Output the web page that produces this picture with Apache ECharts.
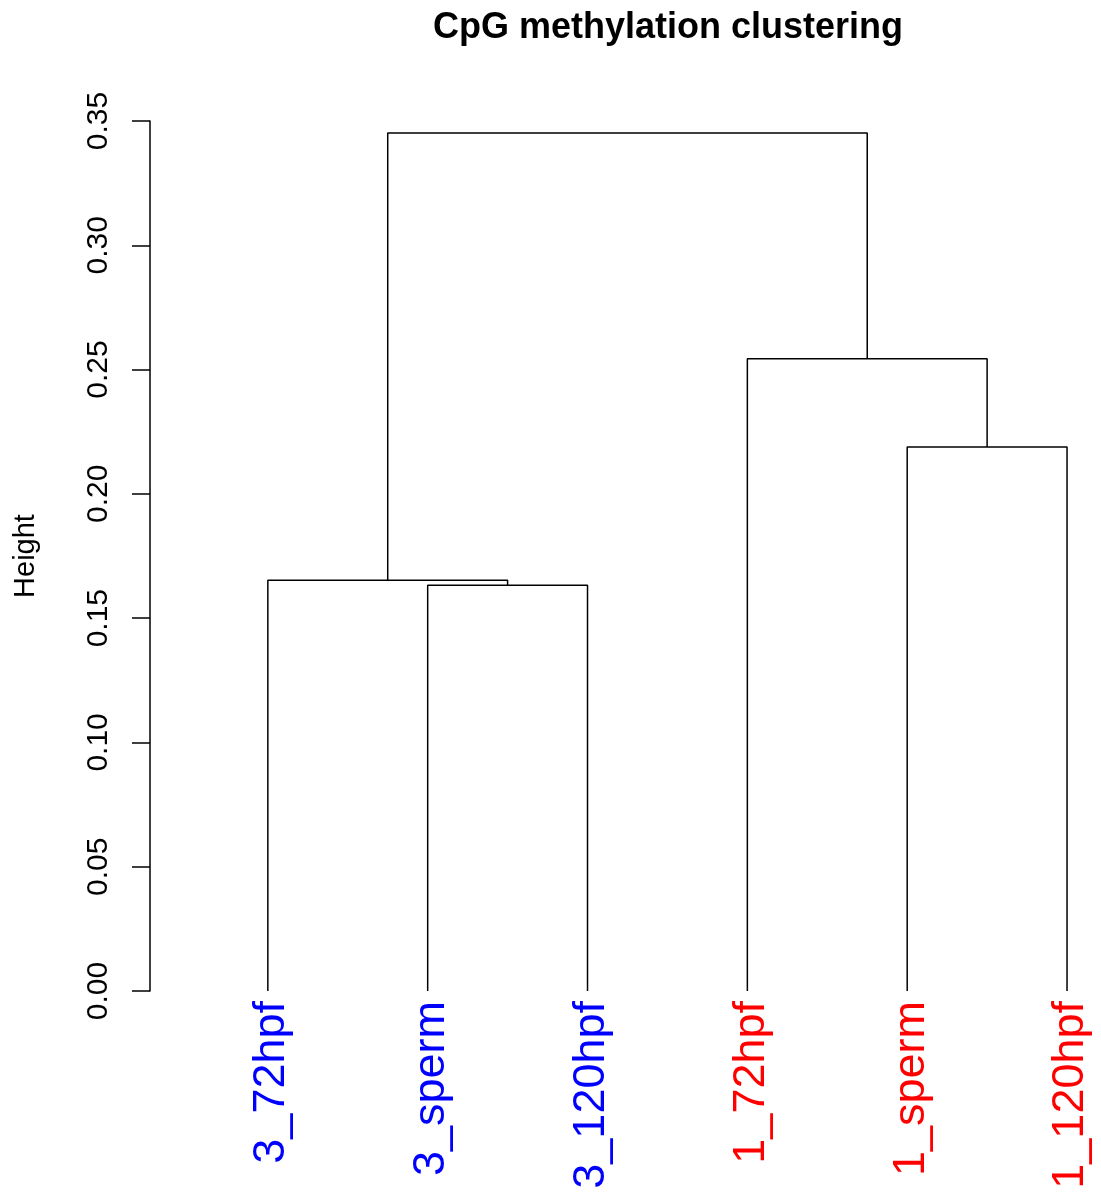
<!DOCTYPE html>
<html>
<head>
<meta charset="utf-8">
<script src="https://cdn.jsdelivr.net/npm/echarts@6/dist/echarts.min.js"></script>
<style>
html,body{margin:0;padding:0;background:#fff;}
#chart{width:1101px;height:1192px;}
</style>
</head>
<body>
<div id="chart"></div>
<script>
// Leaves in plotting order
var leafLabels = ['3_72hpf', '3_sperm', '3_120hpf', '1_72hpf', '1_sperm', '1_120hpf'];
var leafGroup = ['3', '3', '3', '1', '1', '1'];
// Merge matrix (R hclust style): negative = leaf (1-based), positive = earlier merge
var mergeA = [-2, -1, -5, -4, 2];
var mergeB = [-3, 1, -6, 3, 4];
var mergeHeight = [0.1632, 0.1652, 0.2189, 0.2544, 0.3452];
// Y-axis ticks
var yTicks = [0, 0.05, 0.10, 0.15, 0.20, 0.25, 0.30, 0.35];

var nodeX = [], nodeH = [];
function pos(id) {
  if (id < 0) return { x: -id, h: 0 };
  return { x: nodeX[id - 1], h: nodeH[id - 1] };
}
var series = [];
for (var i = 0; i < mergeA.length; i++) {
  var a = pos(mergeA[i]), b = pos(mergeB[i]), h = mergeHeight[i];
  nodeX.push((a.x + b.x) / 2);
  nodeH.push(h);
  series.push({
    type: 'line',
    data: [[a.x, a.h], [a.x, h], [b.x, h], [b.x, b.h]],
    symbol: 'none',
    silent: true,
    animation: false,
    lineStyle: { color: '#000', width: 1.5 }
  });
}

var chart = echarts.init(document.getElementById('chart'), null, { renderer: 'canvas' });
chart.setOption({
  animation: false,
  backgroundColor: '#ffffff',
  title: {
    text: 'CpG methylation clustering',
    left: 428,
    top: 5,
    textStyle: { fontFamily: 'Liberation Sans', fontWeight: 'bold', fontSize: 36, color: '#000' }
  },
  grid: { left: 108, right: 2, top: 121, bottom: 201 },
  xAxis: {
    type: 'value',
    min: 0,
    max: 6.2,
    interval: 1,
    axisLine: { show: false },
    axisTick: { show: false },
    splitLine: { show: false },
    axisLabel: {
      rotate: 90,
      margin: 10,
      showMinLabel: true,
      showMaxLabel: true,
      fontFamily: 'Liberation Sans',
      fontSize: 45,
      formatter: function (v) {
        var idx = Math.round(v) - 1;
        if (Math.abs(v - Math.round(v)) > 1e-6 || idx < 0 || idx >= leafLabels.length) return '';
        return '{' + (leafGroup[idx] === '3' ? 'b' : 'r') + '|' + leafLabels[idx] + '}';
      },
      rich: {
        b: { color: '#0000FF', fontFamily: 'Liberation Sans', fontSize: 45, padding: [8, 0, 0, 0] },
        r: { color: '#FF0000', fontFamily: 'Liberation Sans', fontSize: 45, padding: [8, 0, 0, 0] }
      }
    }
  },
  yAxis: {
    type: 'value',
    min: yTicks[0],
    max: yTicks[yTicks.length - 1],
    interval: 0.05,
    offset: -42,
    name: 'Height',
    nameLocation: 'middle',
    nameRotate: 90,
    nameGap: 110,
    nameTextStyle: { fontFamily: 'Liberation Sans', fontSize: 29, color: '#000' },
    axisLine: { show: true, lineStyle: { color: '#000', width: 1.5 } },
    axisTick: { show: true, length: 18, lineStyle: { color: '#000', width: 1.5 } },
    splitLine: { show: false },
    axisLabel: {
      rotate: 90,
      margin: 36,
      color: '#000',
      fontFamily: 'Liberation Sans',
      fontSize: 30,
      formatter: function (v) { return v.toFixed(2); }
    }
  },
  series: series
});
</script>
</body>
</html>
